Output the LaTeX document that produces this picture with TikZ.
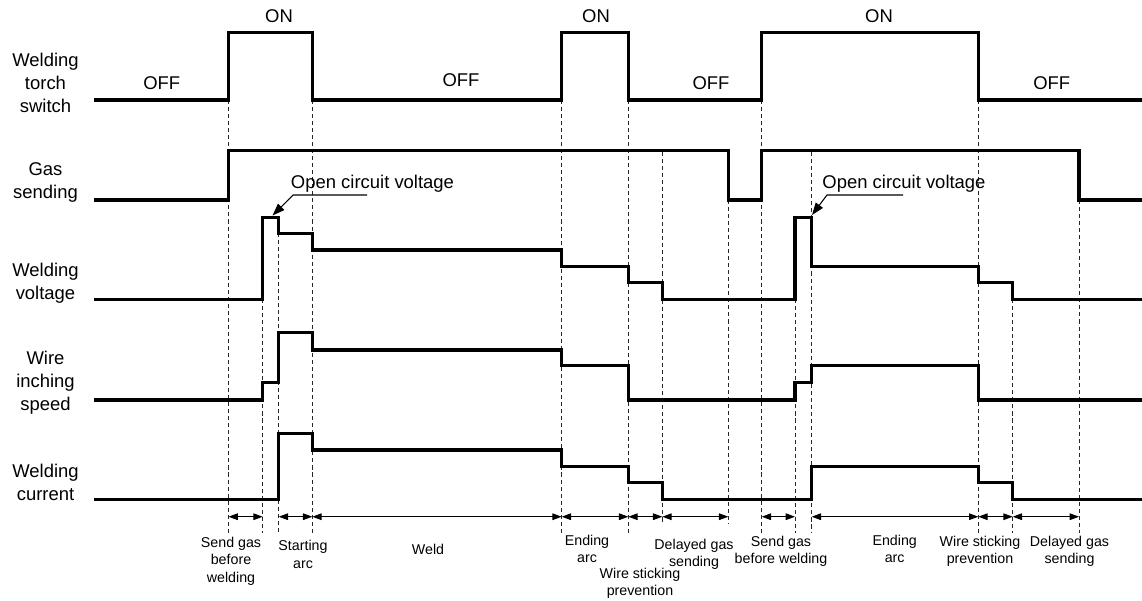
\documentclass[tikz,border=0pt]{standalone}
\usepackage{fontspec}
\setmainfont{Liberation Sans}
\usetikzlibrary{arrows.meta}

\begin{document}
\begin{tikzpicture}[x=0.02cm, y=-0.02cm,
	sig/.style={line width=1.9pt},
	guide/.style={dash pattern=on 2.3pt off 1.7pt, line width=0.5pt, black!85},
	span/.style={{Triangle[length=5.3pt,width=3.8pt]}-{Triangle[length=5.3pt,width=3.8pt]}, line width=0.5pt},
	leader/.style={-{Triangle[length=7pt,width=5pt]}, line width=0.6pt},
	lbl/.style={align=center, inner sep=0pt, font=\fontsize{10.5}{13}\selectfont},
	sml/.style={align=center, inner sep=0pt, font=\fontsize{8.1}{10}\selectfont}]
	\useasboundingbox (0,0) rectangle (1142,600);

	% signal names
	\node (torch)	at (45.5,  83.0)	[lbl]	{Welding\\torch\\switch};
	\node (gas)	at (45.5, 182.5)	[lbl]	{Gas\\sending};
	\node (volt)	at (45.5, 282.8)	[lbl]	{Welding\\voltage};
	\node (wire)	at (45.5, 382.8)	[lbl]	{Wire\\inching\\speed};
	\node (curr)	at (45.5, 482.8)	[lbl]	{Welding\\current};

	% switch states
	\node (off1)	at ( 161.7, 83)	[lbl]	{OFF};
	\node (on1)	at ( 279.0, 15.7)	[lbl]	{ON};
	\node (off2)	at ( 461.0, 80)	[lbl]	{OFF};
	\node (on2)	at ( 596.0, 15.7)	[lbl]	{ON};
	\node (off3)	at ( 711.0, 83)	[lbl]	{OFF};
	\node (on3)	at ( 879.0, 15.7)	[lbl]	{ON};
	\node (off4)	at (1051.7, 83)	[lbl]	{OFF};

	% timing guides
	\foreach \x/\top/\bot in {228.5/100/533, 262.7/299/533, 278.7/233/533, 312.3/100/533,
		561.7/100/533, 628.3/100/533, 662.3/152/524, 728.3/200/524, 761.7/100/533,
		795.0/299/533, 811.7/152/533, 978.3/100/533, 1012.7/299/533, 1079.0/200/533}
		\draw[guide] (\x,\top) -- (\x,\bot);

	% signals
	\draw[sig] (94,100) -- (228.5,100) -- (228.5,32.3) -- (312.3,32.3) -- (312.3,100)
		-- (561.7,100) -- (561.7,32.3) -- (628.3,32.3) -- (628.3,100) -- (761.7,100)
		-- (761.7,32.3) -- (978.3,32.3) -- (978.3,100) -- (1142,100);
	\draw[sig] (94,200) -- (228.5,200) -- (228.5,150.7) -- (728.3,150.7) -- (728.3,200)
		-- (761.7,200) -- (761.7,150.7) -- (1079,150.7) -- (1079,200) -- (1142,200);
	\draw[sig] (94,299.3) -- (262.7,299.3) -- (262.7,217.3) -- (278.7,217.3) -- (278.7,233.3)
		-- (312.3,233.3) -- (312.3,250) -- (561.7,250) -- (561.7,266.7) -- (628.3,266.7)
		-- (628.3,282.7) -- (662.3,282.7) -- (662.3,299.3) -- (795,299.3) -- (795,217.3)
		-- (811.7,217.3) -- (811.7,266.7) -- (978.3,266.7) -- (978.3,282.7) -- (1012.7,282.7)
		-- (1012.7,299.3) -- (1142,299.3);
	\draw[sig] (94,400) -- (262.7,400) -- (262.7,382.7) -- (278.7,382.7) -- (278.7,332.7)
		-- (312.3,332.7) -- (312.3,350) -- (561.7,350) -- (561.7,365.7) -- (628.3,365.7)
		-- (628.3,400) -- (795,400) -- (795,382.7) -- (811.7,382.7) -- (811.7,365.7)
		-- (978.3,365.7) -- (978.3,400) -- (1142,400);
	\draw[sig] (94,499.3) -- (278.7,499.3) -- (278.7,433.3) -- (312.3,433.3) -- (312.3,450)
		-- (561.7,450) -- (561.7,466.7) -- (628.3,466.7) -- (628.3,482.7) -- (662.3,482.7)
		-- (662.3,499.3) -- (811.7,499.3) -- (811.7,466.7) -- (978.3,466.7) -- (978.3,482.7)
		-- (1012.7,482.7) -- (1012.7,499.3) -- (1142,499.3);

	% open circuit voltage callouts
	\node (ocv1)	at (372.5, 183.3)	[lbl]	{Open circuit voltage};
	\node (ocv2)	at (904.0, 183.3)	[lbl]	{Open circuit voltage};
	\coordinate (ocv1a) at (367,195);
	\coordinate (ocv1b) at (293,195);
	\coordinate (ocv1c) at (272.5,215.5);
	\coordinate (ocv2a) at (903,195);
	\coordinate (ocv2b) at (827,195);
	\coordinate (ocv2c) at (812,215);
	\draw[leader] (ocv1a) -- (ocv1b) -- (ocv1c);
	\draw[leader] (ocv2a) -- (ocv2b) -- (ocv2c);

	% interval marks
	\foreach \n/\x in {1/228.5, 2/262.7, 3/278.7, 4/312.3, 5/561.7, 6/628.3, 7/662.3,
		8/728.3, 9/761.7, 10/795.0, 11/811.7, 12/978.3, 13/1012.7, 14/1079.0}
		\coordinate (d\n) at (\x,516.7);
	\draw[span] (d1) -- (d2);
	\draw[span] (d3) -- (d4);
	\draw[span] (d4) -- (d5);
	\draw[span] (d5) -- (d6);
	\draw[span] (d6) -- (d7);
	\draw[span] (d7) -- (d8);
	\draw[span] (d9) -- (d10);
	\draw[span] (d11) -- (d12);
	\draw[span] (d12) -- (d13);
	\draw[span] (d13) -- (d14);

	\node (sg1)	at ( 231.0, 561.0)	[sml]	{Send gas\\before\\welding};
	\node (sa)	at ( 303.0, 554.5)	[sml]	{Starting\\arc};
	\node (weld)	at ( 428.0, 549.0)	[sml]	{Weld};
	\node (ea1)	at ( 587.0, 549.0)	[sml]	{Ending\\arc};
	\node (ws1)	at ( 640.0, 583.5)	[sml]	{Wire sticking\\prevention};
	\node (dg1)	at ( 694.0, 554.5)	[sml]	{Delayed gas\\sending};
	\node (sg2)	at ( 781.0, 551.5)	[sml]	{Send gas\\before welding};
	\node (ea2)	at ( 894.7, 549.0)	[sml]	{Ending\\arc};
	\node (ws2)	at ( 980.0, 551.5)	[sml]	{Wire sticking\\prevention};
	\node (dg2)	at (1069.5, 551.5)	[sml]	{Delayed gas\\sending};
\end{tikzpicture}
\end{document}
